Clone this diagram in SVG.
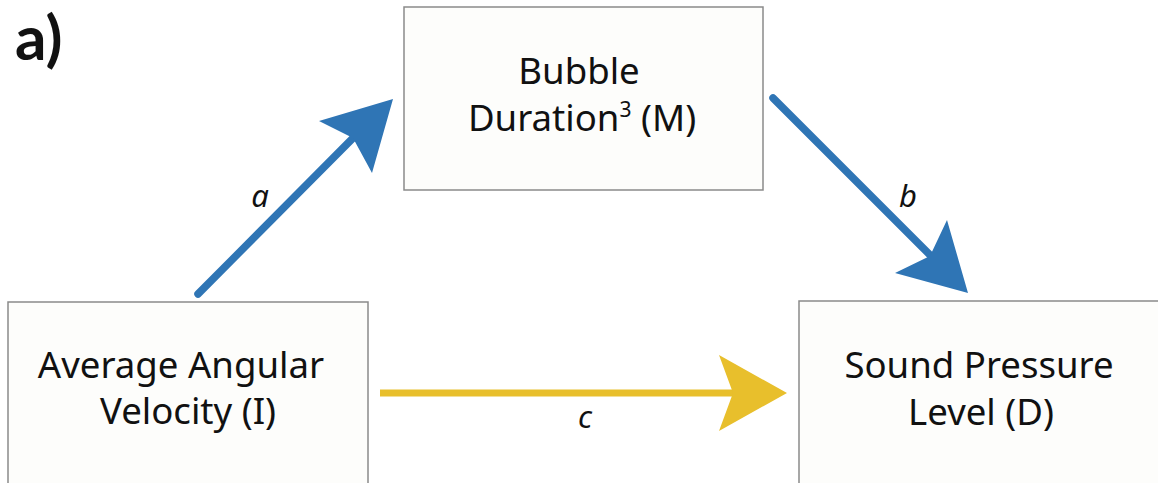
<svg xmlns="http://www.w3.org/2000/svg" width="1158" height="483" viewBox="0 0 1158 483">
<style>
.box{fill:#fdfdfb;stroke:#8a8a8a;stroke-width:1.5}
.t{font-family:"Noto Sans",Lato,sans-serif;font-size:36.6px;fill:#111;text-anchor:middle}
.lab{font-family:"Noto Sans",Lato,sans-serif;font-size:31px;font-style:italic;fill:#111;text-anchor:middle}
.blue{stroke:#2f75b5;stroke-width:7.5;stroke-linecap:round;fill:none}
.yel{stroke:#e8bf2c;stroke-width:7;fill:none}
</style>
<rect width="1158" height="483" fill="#ffffff"/>
<text x="15" y="60" font-family="Lato,'Noto Sans',sans-serif" font-size="62" font-weight="bold" fill="#111">a)</text>
<g id="node-M">
<rect class="box" x="404" y="7" width="359" height="183"/>
<text class="t" x="579" y="84">Bubble</text>
<text class="t" x="582" y="131">Duration<tspan font-size="21" dy="-14">3</tspan><tspan dy="14"> (M)</tspan></text>
</g>
<g id="node-I">
<rect class="box" x="8" y="302" width="360" height="200"/>
<text class="t" x="181" y="378">Average Angular</text>
<text class="t" x="188" y="424">Velocity (I)</text>
</g>
<g id="node-D">
<rect class="box" x="799" y="301" width="380" height="200"/>
<text class="t" x="979" y="378">Sound Pressure</text>
<text class="t" x="981" y="425">Level (D)</text>
</g>
<g id="connectors">
<line class="blue" x1="198" y1="294" x2="357" y2="134"/>
<path d="M393,99 L372,173 L353,138 L319,121 Z" fill="#2f75b5"/>
<line class="blue" x1="773" y1="98" x2="932" y2="257"/>
<path d="M968,293 L895,273 L930,256 L947,220 Z" fill="#2f75b5"/>
<line class="yel" x1="380" y1="393" x2="735" y2="393"/>
<path d="M787,393 L719,355 L733,393 L719,431 Z" fill="#e8bf2c"/>
<text class="lab" x="260" y="207">a</text>
<text class="lab" x="908" y="207">b</text>
<text class="lab" x="585" y="428">c</text>
</g>
</svg>
